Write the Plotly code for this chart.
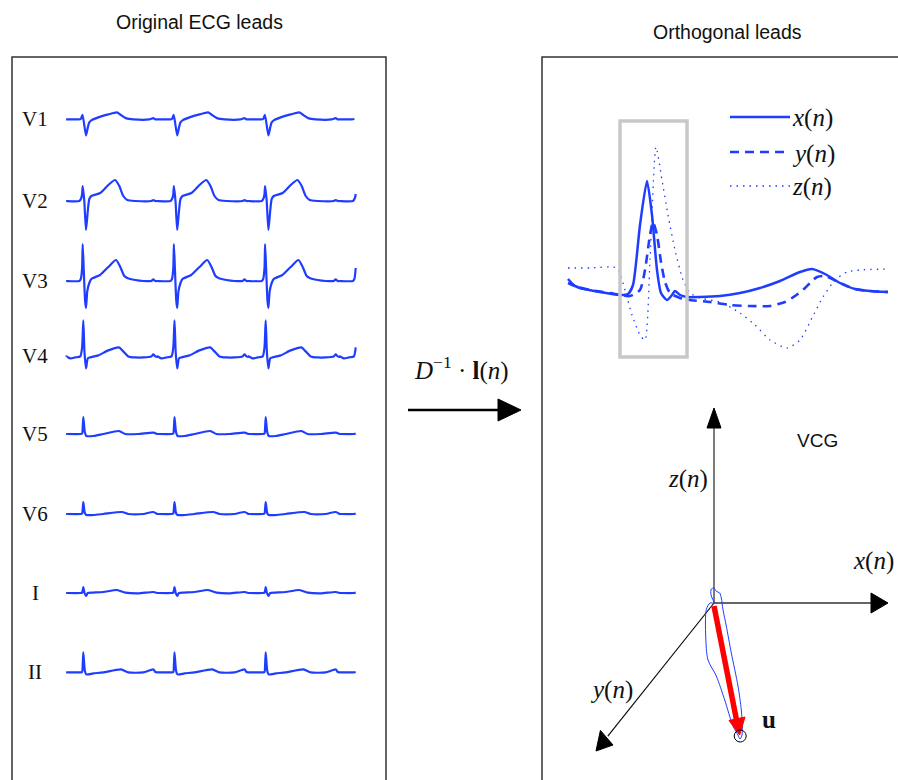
import plotly.graph_objects as go

W, H = 898, 780
BLUE = "#1f3dff"
SERIF = "Liberation Serif"
SANS = "Liberation Sans"

# ---------------- Original ECG leads (12-lead subset) ----------------
lead_names = ["V1", "V2", "V3", "V4", "V5", "V6", "I", "II"]
lead_baselines_mV = [33.03, 28.95, 24.95, 21.18, 17.30, 13.30, 9.35, 5.38]
r_peak_times_s = [-0.739, 0.173, 1.085, 1.997, 2.909]
record_end_s = 2.90

# beat templates: offset from R peak (s) and amplitude (mV)
beat_dt = {
    "V1": [-0.17, -0.05, -0.025, -0.008, 0.027, 0.045, 0.06, 0.08, 0.15, 0.25, 0.337, 0.38, 0.43, 0.5, 0.66, 0.70, 0.72, 0.74],
    "V2": [-0.17, -0.04, -0.02, -0.012, -0.006, 0.01, 0.027, 0.045, 0.06, 0.08, 0.17, 0.25, 0.317, 0.36, 0.40, 0.44, 0.52, 0.68, 0.70, 0.72, 0.74],
    "V3": [-0.17, -0.04, -0.025, -0.012, -0.006, 0.005, 0.018, 0.027, 0.04, 0.06, 0.08, 0.167, 0.25, 0.327, 0.37, 0.41, 0.44, 0.52, 0.6, 0.68, 0.70, 0.72, 0.74],
    "V4": [-0.17, -0.13, -0.08, -0.03, -0.012, 0.0, 0.012, 0.027, 0.045, 0.07, 0.15, 0.25, 0.357, 0.40, 0.45, 0.52, 0.6, 0.68, 0.70, 0.72, 0.74],
    "V5": [-0.17, -0.03, -0.012, -0.006, 0.0, 0.015, 0.03, 0.1, 0.2, 0.357, 0.42, 0.55, 0.70, 0.74],
    "V6": [-0.17, -0.03, -0.012, -0.006, 0.0, 0.015, 0.03, 0.1, 0.2, 0.387, 0.45, 0.6, 0.70, 0.74],
    "I":  [-0.17, -0.03, -0.012, -0.006, 0.0, 0.012, 0.027, 0.045, 0.1, 0.2, 0.337, 0.42, 0.55, 0.70, 0.74],
    "II": [-0.17, -0.03, -0.012, -0.006, 0.0, 0.015, 0.03, 0.1, 0.2, 0.377, 0.45, 0.6, 0.70, 0.72, 0.74],
}
beat_mV = {
    "V1": [0, 0, 0.02, 0.23, -0.8, -0.4, -0.15, -0.05, 0.1, 0.25, 0.35, 0.2, 0.05, 0, 0, 0.06, 0, 0],
    "V2": [0, 0, 0.15, 0.35, 0.75, 0.0, -1.45, -0.5, 0.1, 0.25, 0.4, 0.8, 1.05, 0.75, 0.25, 0.05, 0, 0, 0.05, 0, 0],
    "V3": [0, 0, 0.1, 0.65, 1.85, 0.5, -1.0, -1.35, -0.5, -0.1, 0.1, 0.3, 0.7, 1.05, 0.7, 0.25, 0.15, 0.05, 0, 0, 0.08, 0, 0],
    "V4": [0, -0.1, -0.05, 0, 0.45, 1.8, 0.2, -0.6, -0.1, -0.05, 0.05, 0.3, 0.45, 0.25, 0.0, -0.05, -0.05, 0, 0.1, 0, -0.02],
    "V5": [0, 0, 0.02, 0.3, 0.85, 0.1, -0.1, -0.1, 0.0, 0.15, 0.0, 0, 0.07, 0],
    "V6": [0, 0, 0.02, 0.25, 0.6, 0.05, -0.05, -0.05, 0.0, 0.1, 0.0, 0, 0.1, 0],
    "I":  [0, 0, 0.02, 0.12, 0.3, 0.0, -0.15, 0.0, 0.02, 0.05, 0.15, 0.02, -0.02, 0.05, 0],
    "II": [0, 0, 0.02, 0.35, 1.0, 0.1, -0.1, -0.05, 0.0, 0.15, 0.0, 0.0, 0.15, 0.02, 0],
}

# ---------------- Orthogonal leads (one beat) ----------------
ortho_x_ms = [0, 30, 80, 130, 150, 162.5, 180, 197.5, 210, 222.5, 232.5, 247.5, 260, 267.5, 280, 297.5,
              330, 380, 430, 480, 530, 580, 610, 642.5, 680, 717.5, 755, 800]
ortho_x_mV = [0.10, 0.05, 0.01, -0.02, -0.01, 0.08, 0.68, 1.12, 0.78, 0.23, 0.00, -0.07, -0.02, 0.02, -0.02, -0.04,
              -0.04, -0.03, 0.00, 0.05, 0.12, 0.21, 0.24, 0.19, 0.10, 0.04, 0.02, 0.01]
ortho_y_ms = [0, 17.5, 55, 105, 155, 180, 192.5, 205, 212.5, 222.5, 232.5, 242.5, 255, 280, 305, 355, 405, 455,
              505, 542.5, 567.5, 592.5, 610, 622.5, 642.5, 680, 717.5, 755, 800]
ortho_y_mV = [0.14, 0.07, 0.03, 0.0, -0.03, 0.03, 0.23, 0.58, 0.71, 0.58, 0.31, 0.11, 0.0, -0.05, -0.07, -0.09,
              -0.12, -0.13, -0.13, -0.09, -0.03, 0.05, 0.12, 0.16, 0.17, 0.10, 0.04, 0.02, 0.01]
ortho_z_ms = [0, 55, 122.5, 142.5, 160, 180, 192.5, 205, 220, 235, 250, 267.5, 287.5, 305, 330, 380, 430, 467.5,
              505, 547.5, 580, 610, 637.5, 667.5, 697.5, 730, 800]
ortho_z_mV = [0.25, 0.25, 0.25, 0.03, -0.22, -0.42, -0.47, 0.33, 1.46, 1.13, 0.78, 0.43, 0.13, 0.0, -0.05, -0.09,
              -0.20, -0.32, -0.47, -0.55, -0.47, -0.25, -0.04, 0.13, 0.21, 0.23, 0.24]
qrs_window_ms = [130, 297.5]
qrs_window_mV = [-0.64, 1.72]

# ---------------- VCG projection ----------------
vcg_loop_h = [0, -3, -2.7, 0, 2.3, 5.7, 7.3, 9, 12.3, 17.3, 24, 27.3, 28.3, 28, 26, 24, 19, 10.7, 2.3, -6, -8.3, -7.7, -4, 0]
vcg_loop_v = [0, 8, 14, 15, 11.7, 10, 5, -6.7, -23, -50, -83, -107, -125, -132, -136, -132, -123, -97, -73, -57, -33, -6.7, 0, 0]
u_vector = [25.7, -132]
axis_x_tip = [174, 0]
axis_z_tip = [0, 195]
axis_y_tip = [-118, -148]


def PX(x):
    return x / W


def PY(y):
    return 1 - y / H


fig = go.Figure()

# ECG leads
for name, base in zip(lead_names, lead_baselines_mV):
    pts = []
    for tr in r_peak_times_s:
        for dt, a in zip(beat_dt[name], beat_mV[name]):
            t = tr + dt
            if 0 <= t <= record_end_s:
                pts.append((t, a))
    pts.sort()
    fig.add_trace(go.Scatter(x=[p[0] for p in pts], y=[base + p[1] for p in pts], mode="lines",
                             line=dict(color=BLUE, width=2.2, shape="spline", smoothing=0.6),
                             xaxis="x", yaxis="y", showlegend=False, hoverinfo="skip"))

# Orthogonal leads
fig.add_trace(go.Scatter(x=ortho_x_ms, y=ortho_x_mV, mode="lines", name="x(n)",
                         line=dict(color=BLUE, width=2.5, shape="spline", smoothing=0.6),
                         xaxis="x2", yaxis="y2", showlegend=False))
fig.add_trace(go.Scatter(x=ortho_y_ms, y=ortho_y_mV, mode="lines", name="y(n)",
                         line=dict(color=BLUE, width=2.6, dash="9px,6px", shape="spline", smoothing=0.6),
                         xaxis="x2", yaxis="y2", showlegend=False))
fig.add_trace(go.Scatter(x=ortho_z_ms, y=ortho_z_mV, mode="lines", name="z(n)",
                         line=dict(color=BLUE, width=1.3, dash="1.5px,5px", shape="spline", smoothing=0.6),
                         xaxis="x2", yaxis="y2", showlegend=False))

# VCG axes
fig.add_trace(go.Scatter(x=[0, 0], y=[0, axis_z_tip[1] - 18], mode="lines",
                         line=dict(color="#333333", width=1.3), xaxis="x3", yaxis="y3", showlegend=False))
fig.add_trace(go.Scatter(x=[0, axis_x_tip[0] - 16], y=[0, 0], mode="lines",
                         line=dict(color="#333333", width=1.3), xaxis="x3", yaxis="y3", showlegend=False))
fig.add_trace(go.Scatter(x=[0, axis_y_tip[0] * 0.9], y=[0, axis_y_tip[1] * 0.9], mode="lines",
                         line=dict(color="black", width=1.1), xaxis="x3", yaxis="y3", showlegend=False))
# VCG loop
fig.add_trace(go.Scatter(x=vcg_loop_h, y=vcg_loop_v, mode="lines",
                         line=dict(color=BLUE, width=1, shape="spline", smoothing=0.8),
                         xaxis="x3", yaxis="y3", showlegend=False))
# u vector shaft
fig.add_trace(go.Scatter(x=[0, u_vector[0] * 0.88], y=[-3, u_vector[1] * 0.89], mode="lines",
                         line=dict(color="#ff0000", width=5.5), xaxis="x3", yaxis="y3", showlegend=False))

shapes = []
# panel boxes
shapes.append(dict(type="rect", xref="paper", yref="paper", x0=PX(12), x1=PX(386), y0=-0.05, y1=PY(57),
                   line=dict(color="#333333", width=1.5)))
shapes.append(dict(type="rect", xref="paper", yref="paper", x0=PX(542), x1=1.05, y0=-0.05, y1=PY(57),
                   line=dict(color="#333333", width=1.5)))
# QRS window box
shapes.append(dict(type="rect", xref="x2", yref="y2", x0=qrs_window_ms[0], x1=qrs_window_ms[1],
                   y0=qrs_window_mV[0], y1=qrs_window_mV[1], line=dict(color="#c8c8c8", width=3.5)))
# legend samples
for yy, dash, wdt in [(117, "solid", 2.5), (152, "9px,6px", 2.6), (186, "1.5px,5px", 1.3)]:
    shapes.append(dict(type="line", xref="paper", yref="paper", x0=PX(730), x1=PX(790), y0=PY(yy), y1=PY(yy),
                       line=dict(color=BLUE, width=wdt, dash=dash)))
# transform arrow
shapes.append(dict(type="line", xref="paper", yref="paper", x0=PX(408), x1=PX(500), y0=PY(410), y1=PY(410),
                   line=dict(color="black", width=2.5)))
shapes.append(dict(type="path", xref="paper", yref="paper",
                   path=f"M {PX(498)},{PY(399)} L {PX(521)},{PY(410)} L {PX(498)},{PY(421)} Z",
                   fillcolor="black", line=dict(color="black", width=1)))


def tri(p1, p2, p3, color):
    return dict(type="path", xref="x3", yref="y3",
                path=f"M {p1[0]},{p1[1]} L {p2[0]},{p2[1]} L {p3[0]},{p3[1]} Z",
                fillcolor=color, line=dict(color=color, width=1))


shapes.append(tri((axis_z_tip[0] - 7, axis_z_tip[1] - 20), tuple(axis_z_tip), (axis_z_tip[0] + 7, axis_z_tip[1] - 20), "black"))
shapes.append(tri((axis_x_tip[0] - 17, -10), tuple(axis_x_tip), (axis_x_tip[0] - 17, 10), "black"))
shapes.append(tri((-113.6, -127.4), tuple(axis_y_tip), (-101, -142), "black"))
shapes.append(tri((15, -117.5), tuple(u_vector), (31, -114), "#ff0000"))
shapes.append(dict(type="circle", xref="x3", yref="y3", x0=u_vector[0] - 5.5, x1=u_vector[0] + 6.5,
                   y0=u_vector[1] - 7, y1=u_vector[1] + 5, line=dict(color="black", width=1)))

ann = []


def text(x, y, s, size, family, xanchor="center", color="#111111"):
    ann.append(dict(x=PX(x), y=PY(y), xref="paper", yref="paper", text=s, showarrow=False,
                    xanchor=xanchor, yanchor="middle", font=dict(size=size, family=family, color=color)))


text(199, 22, "Original ECG leads", 19.5, SANS)
text(727, 32, "Orthogonal leads", 19.5, SANS)
text(817, 440, "VCG", 19, SANS)

for name, base in zip(lead_names, lead_baselines_mV):
    ann.append(dict(x=-0.31, y=base, xref="x", yref="y", text=name, showarrow=False, xanchor="center",
                    yanchor="middle", font=dict(size=21, family=SERIF, color="#111111")))

math = lambda v: f"<i>{v}</i>(<i>n</i>)"
text(790, 118, math("x"), 25, SERIF, xanchor="left")
text(790, 154, math("y"), 25, SERIF, xanchor="left")
text(790, 187, math("z"), 25, SERIF, xanchor="left")
text(688, 479, math("z"), 25, SERIF)
text(873, 561, math("x"), 25, SERIF)
text(611, 690, math("y"), 25, SERIF)
text(769, 719, "<b>u</b>", 25, SERIF)
text(461, 368, "<i>D</i><sup>−1</sup> · <b>l</b>(<i>n</i>)", 25, SERIF)

fig.update_layout(
    width=W, height=H, margin=dict(l=0, r=0, t=0, b=0),
    paper_bgcolor="white", plot_bgcolor="rgba(0,0,0,0)",
    showlegend=False,
    xaxis=dict(domain=[PX(12), PX(386)], range=[-0.54, 3.20], visible=False, fixedrange=True),
    yaxis=dict(domain=[0, 723 / 780], range=[0, 36.15], visible=False, fixedrange=True),
    xaxis2=dict(domain=[PX(542), 1], range=[-65, 825], visible=False, anchor="y2"),
    yaxis2=dict(domain=[420 / 780, 680 / 780], range=[-0.67, 1.93], visible=False, anchor="x2"),
    xaxis3=dict(domain=[PX(560), 1], range=[-154, 184], visible=False, anchor="y3"),
    yaxis3=dict(domain=[0, 380 / 780], range=[-177, 203], visible=False, anchor="x3"),
    shapes=shapes, annotations=ann,
)

fig.write_html("out.html")
